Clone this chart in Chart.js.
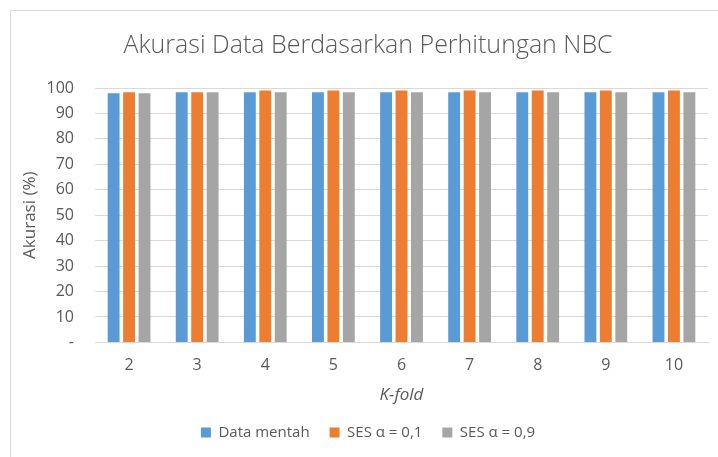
<!DOCTYPE html>
<html>
<head>
<meta charset="utf-8">
<script src="https://cdn.jsdelivr.net/npm/chart.js@4"></script>
<style>
html,body{margin:0;padding:0;background:#fff;overflow:hidden;width:718px;height:457px;}
#wrap{position:absolute;left:10px;top:10px;width:716px;height:447px;border-left:1px solid #d9d9d9;border-top:1px solid #d9d9d9;background:#fff;}
canvas{display:block;}
</style>
</head>
<body>
<div id="wrap"><canvas id="c"></canvas></div>
<script>
const categories = ["2","3","4","5","6","7","8","9","10"];
const dataMentah = [97.9, 98.3, 98.3, 98.3, 98.3, 98.3, 98.3, 98.3, 98.3];
const ses01 = [98.3, 98.3, 99.0, 99.0, 99.0, 99.0, 99.0, 99.0, 99.0];
const ses09 = [97.9, 98.3, 98.3, 98.3, 98.3, 98.3, 98.3, 98.3, 98.3];
const seriesNames = ["Data mentah", "SES α = 0,1", "SES α = 0,9"];
const yTicks = [0,10,20,30,40,50,60,70,80,90,100];

const font = "'Open Sans', 'Liberation Sans', sans-serif";
const txt = '#595959';
new Chart(document.getElementById('c'), {
  type: 'bar',
  data: {
    labels: categories,
    datasets: [
      {label: seriesNames[0], data: dataMentah, backgroundColor: '#5B9BD5'},
      {label: seriesNames[1], data: ses01, backgroundColor: '#ED7D31'},
      {label: seriesNames[2], data: ses09, backgroundColor: '#A5A5A5'}
    ]
  },
  options: {
    responsive: true,
    maintainAspectRatio: false,
    animation: false,
    datasets: {bar: {categoryPercentage: 0.68, barPercentage: 0.77}},
    layout: {padding: {left: 17, right: 19, top: 0, bottom: 8}},
    plugins: {
      title: {display: true, text: 'Akurasi Data Berdasarkan Perhitungan NBC', color: txt,
        font: {family: font, size: 25, weight: '300'}, padding: {top: 20, bottom: 27}},
      legend: {position: 'bottom', labels: {color: txt, font: {family: font, size: 15},
        boxWidth: 10, boxHeight: 10, padding: 20}},
      tooltip: {enabled: false}
    },
    scales: {
      x: {
        grid: {display: false, drawTicks: false},
        border: {color: '#d9d9d9', width: 1},
        ticks: {color: txt, font: {family: font, size: 16}, padding: 13},
        title: {display: true, text: 'K-fold', color: txt, font: {family: font, size: 17, style: 'italic'}, padding: {top: 0, bottom: 0}},
        afterFit: (s) => { s.height = 62.6; }
      },
      y: {
        min: 0, max: 100,
        afterBuildTicks: (s) => { s.ticks = yTicks.map(v => ({value: v})); },
        grid: {color: '#d9d9d9', lineWidth: 1, drawTicks: false},
        border: {display: false},
        ticks: {color: txt, font: {family: font, size: 16}, padding: 21,
          callback: (v) => v === 0 ? '-' : String(v)},
        title: {display: true, text: 'Akurasi (%)', color: txt, font: {family: font, size: 17}, padding: {top: -7.7, bottom: 0}},
        afterFit: (s) => { s.width = 67; }
      }
    }
  }
});
</script>
</body>
</html>
